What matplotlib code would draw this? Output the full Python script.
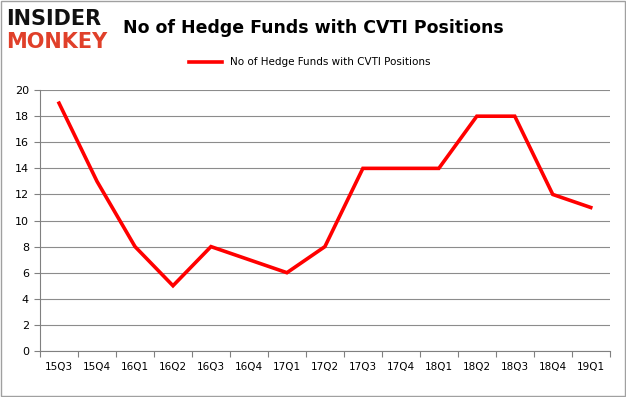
import matplotlib
matplotlib.use("Agg")
import matplotlib.pyplot as plt
from matplotlib.patches import Rectangle
import numpy as np

quarters = ["15Q3", "15Q4", "16Q1", "16Q2", "16Q3", "16Q4", "17Q1", "17Q2",
            "17Q3", "17Q4", "18Q1", "18Q2", "18Q3", "18Q4", "19Q1"]
funds = [19, 13, 8, 5, 8, 7, 6, 8, 14, 14, 14, 18, 18, 12, 11]
yticks = list(range(0, 21, 2))

fig = plt.figure(figsize=(6.26, 3.97), dpi=100)
ax = fig.add_axes([0.064, 0.116, 0.91, 0.657])

x = np.arange(len(quarters))
ax.plot(x, funds, color="#ff0000", linewidth=2.6,
        label="No of Hedge Funds with CVTI Positions", solid_joinstyle="miter")

ax.set_xlim(-0.5, len(quarters) - 0.5)
ax.set_ylim(0, 20)
ax.set_yticks(yticks)
ax.set_xticks(np.arange(-0.5, len(quarters)), labels=[])
ax.set_xticks(x, labels=quarters, minor=True)
ax.tick_params(axis="x", which="major", length=4, color="#808080")
ax.tick_params(axis="x", which="minor", length=0, pad=8, labelsize=7.5)
ax.tick_params(axis="y", length=4, color="#808080", labelsize=8, pad=4)
ax.grid(axis="y", color="#8c8c8c", linewidth=0.8)
ax.set_axisbelow(True)
for side in ["top", "right"]:
    ax.spines[side].set_visible(False)
for side in ["left", "bottom"]:
    ax.spines[side].set_color("#808080")

fig.legend(loc="center", bbox_to_anchor=(0.495, 0.843), frameon=False,
           fontsize=7.5, handlelength=3.2)

fig.text(0.5, 0.93, "No of Hedge Funds with CVTI Positions", ha="center",
         va="center", fontsize=12.5, fontweight="bold")

# logo
fig.text(0.01, 0.952, "INSIDER", ha="left", va="center", fontsize=15,
         fontweight="heavy", color="#111111", family="DejaVu Sans")
fig.text(0.01, 0.895, "MONKEY", ha="left", va="center", fontsize=15,
         fontweight="heavy", color="#e0402a", family="DejaVu Sans")

fig.patches.append(Rectangle((0.001, 0.002), 0.997, 0.996, transform=fig.transFigure,
                             fill=False, edgecolor="#a0a0a0", linewidth=1))

fig.savefig("out.png", dpi=100)
